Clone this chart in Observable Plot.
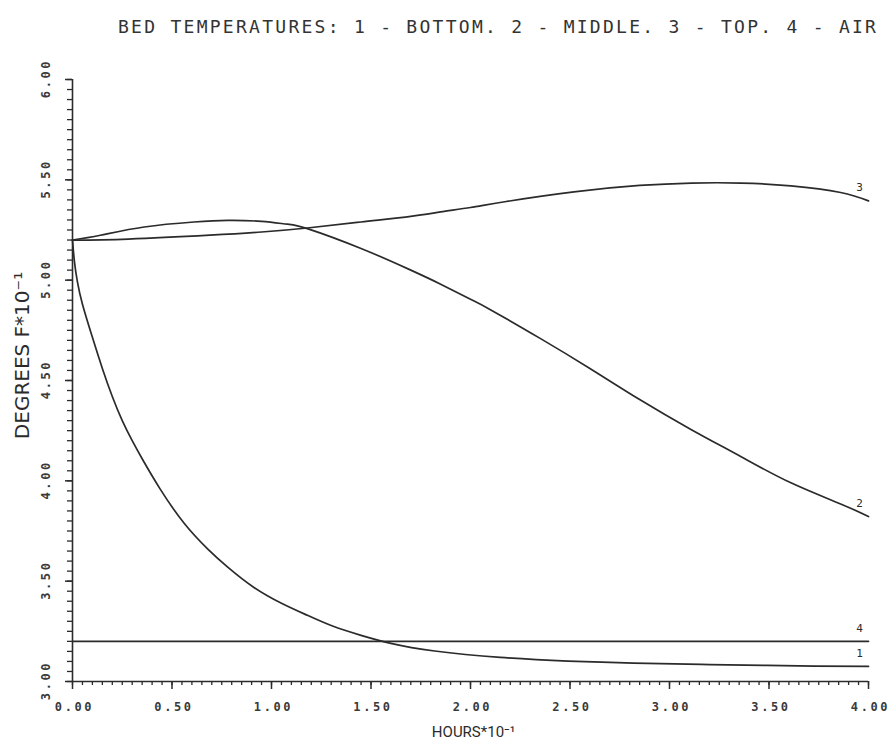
<!DOCTYPE html>
<html>
<head>
<meta charset="utf-8">
<script src="https://cdn.jsdelivr.net/npm/d3@7"></script>
<script src="https://cdn.jsdelivr.net/npm/@observablehq/plot@0.6"></script>
<style>
  body { margin: 0; background: white; }
  #title { height: 40px; box-sizing: border-box; padding: 17px 0 0 118px; font-family: "DejaVu Sans Mono", monospace; font-size: 18px; line-height: 20px; letter-spacing: 2.27px; color: #333; white-space: nowrap; }
</style>
</head>
<body>
<div id="title">BED TEMPERATURES: 1 - BOTTOM. 2 - MIDDLE. 3 - TOP. 4 - AIR</div>
<div id="chart"></div>
<script>
// Axis ticks and labels
const xTicks = [0, 0.5, 1, 1.5, 2, 2.5, 3, 3.5, 4];
const xTickLabels = ["0.00", "0.50", "1.00", "1.50", "2.00", "2.50", "3.00", "3.50", "4.00"];
const yTicks = [3, 3.5, 4, 4.5, 5, 5.5, 6];
const yTickLabels = ["3.00", "3.50", "4.00", "4.50", "5.00", "5.50", "6.00"];
const seriesNames = ["1", "2", "3", "4"];

// Series 1 - bottom
const hoursBottom = [0, 0.01, 0.025, 0.05, 0.1, 0.15, 0.2, 0.25, 0.3, 0.35, 0.44, 0.56, 0.68, 0.78, 0.91, 1.05, 1.18, 1.31, 1.45, 1.6, 1.82, 2.15, 2.49, 2.82, 3.16, 3.49, 3.73, 4.0];
const tempBottom = [5.20, 5.09, 4.99, 4.88, 4.715, 4.56, 4.42, 4.30, 4.20, 4.11, 3.96, 3.79, 3.66, 3.57, 3.47, 3.39, 3.33, 3.275, 3.23, 3.19, 3.152, 3.12, 3.102, 3.092, 3.085, 3.08, 3.077, 3.075];

// Series 2 - middle
const hoursMiddle = [0, 0.14, 0.36, 0.61, 0.78, 0.95, 1.08, 1.18, 1.45, 1.70, 1.85, 2.0, 2.10, 2.35, 2.60, 2.85, 3.11, 3.36, 3.61, 3.86, 4.0];
const tempMiddle = [5.20, 5.224, 5.265, 5.29, 5.298, 5.293, 5.279, 5.257, 5.158, 5.05, 4.98, 4.905, 4.853, 4.71, 4.56, 4.405, 4.255, 4.12, 3.99, 3.885, 3.822];

// Series 3 - top
const hoursTop = [0, 0.28, 0.69, 0.95, 1.18, 1.45, 1.70, 1.85, 2.0, 2.18, 2.52, 2.85, 3.11, 3.36, 3.61, 3.86, 4.0];
const tempTop = [5.20, 5.205, 5.224, 5.24, 5.26, 5.29, 5.318, 5.34, 5.362, 5.392, 5.44, 5.472, 5.484, 5.484, 5.47, 5.437, 5.395];

// Series 4 - air
const hoursAir = [0, 4.0];
const tempAir = [3.20, 3.20];

const rows = [];
const addSeries = (name, xs, ys) => xs.forEach((x, i) => rows.push({series: name, hours: x, temp: ys[i]}));
addSeries(seriesNames[0], hoursBottom, tempBottom);
addSeries(seriesNames[1], hoursMiddle, tempMiddle);
addSeries(seriesNames[2], hoursTop, tempTop);
addSeries(seriesNames[3], hoursAir, tempAir);

const ends = seriesNames.map(s => rows.filter(r => r.series === s).slice(-1)[0]);

const minorX = d3.range(0, 80.5, 1).map(d => d * 0.05);
const minorY = d3.range(0, 60.5, 1).map(d => 3 + d * 0.05);

const ink = "#2b2b2b";

const chart = Plot.plot({
  width: 893,
  height: 704,
  marginLeft: 72,
  marginRight: 25,
  marginTop: 39,
  marginBottom: 63,
  x: {domain: [0, 4]},
  y: {domain: [3, 6]},
  style: {fontFamily: "DejaVu Sans Mono, monospace", color: ink, background: "white", overflow: "visible"},
  marks: [
    Plot.axisX({ticks: minorX, tickSize: 4, tickFormat: () => "", label: null, stroke: ink, strokeWidth: 1.3}),
    Plot.axisX({ticks: xTicks, tickSize: 8, tickFormat: () => "", label: null, stroke: ink, strokeWidth: 1.5}),
    Plot.axisY({ticks: minorY, tickSize: 5, tickFormat: () => "", label: null, stroke: ink, strokeWidth: 1.3}),
    Plot.axisY({ticks: yTicks, tickSize: 7, tickFormat: () => "", label: null, stroke: ink, strokeWidth: 1.5}),
    Plot.ruleY([3], {stroke: ink, strokeWidth: 1.6}),
    Plot.ruleX([0], {stroke: ink, strokeWidth: 1.6}),
    Plot.text(xTicks, {x: d => d, text: (d, i) => xTickLabels[i], frameAnchor: "bottom", lineAnchor: "top", dy: 21, dx: 2, fontSize: 12, fontWeight: "bold", fill: "#3a3a3a"}),
    Plot.text(yTicks, {y: d => d, text: (d, i) => yTickLabels[i], frameAnchor: "left", rotate: -90, textAnchor: "middle", lineAnchor: "middle", dx: -26, dy: -1, fontSize: 12, fontWeight: "bold", fill: "#3a3a3a"}),
    Plot.text(["HOURS*10\u207B\u00B9"], {frameAnchor: "bottom", lineAnchor: "middle", dy: 51, dx: 3, fontSize: 15, fontFamily: "Roboto, sans-serif", fill: ink}),
    Plot.text(["DEGREES F*10\u207B\u00B9"], {frameAnchor: "left", rotate: -90, textAnchor: "middle", lineAnchor: "middle", dx: -50, dy: -25, fontSize: 20, fontFamily: "DejaVu Sans, sans-serif", fill: ink}),
    Plot.line(rows, {x: "hours", y: "temp", z: "series", curve: "natural", stroke: ink, strokeWidth: 1.7}),
    Plot.text(ends, {x: "hours", y: "temp", text: "series", dx: -9, dy: -13, fontSize: 11, fill: ink})
  ]
});
// plotter-style spacing for tick labels
const tickLabelSet = new Set([...xTickLabels, ...yTickLabels]);
d3.select(chart).selectAll("text").filter(function() { return tickLabelSet.has(this.textContent); }).style("letter-spacing", "2.6px");
document.getElementById("chart").appendChild(chart);
</script>
</body>
</html>
